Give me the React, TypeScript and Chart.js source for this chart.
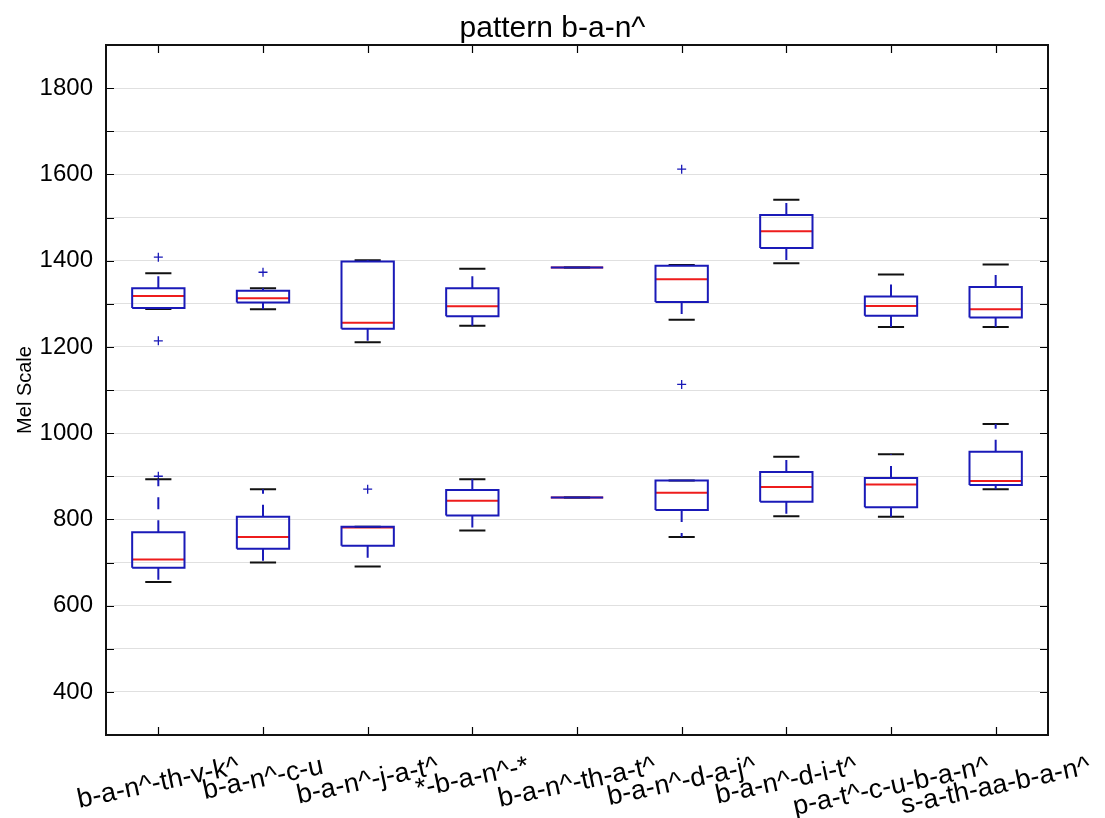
import React, { useEffect, useRef } from "react";
import { Chart, registerables } from "chart.js";

Chart.register(...registerables);

// ---------- data ----------
const categories = [
  "b-a-n^-th-v-k^",
  "b-a-n^-c-u",
  "b-a-n^-j-a-t^",
  "*-b-a-n^-*",
  "b-a-n^-th-a-t^",
  "b-a-n^-d-a-j^",
  "b-a-n^-d-i-t^",
  "p-a-t^-c-u-b-a-n^",
  "s-a-th-aa-b-a-n^",
];

// upper group (higher formant)
const upperLow = [1288, 1287, 1211, 1249, 1384, 1263, 1394, 1246, 1246];
const upperQ1 = [1290, 1303, 1242, 1271, 1384, 1304, 1429, 1272, 1268];
const upperMedian = [1318, 1313, 1256, 1294, 1384, 1357, 1468, 1295, 1287];
const upperQ3 = [1336, 1330, 1398, 1336, 1384, 1388, 1506, 1317, 1339];
const upperHigh = [1371, 1336, 1401, 1381, 1384, 1390, 1541, 1368, 1391];
const upperFliers = [[1408, 1214], [1373], [], [], [], [1612, 1113], [], [], []];

// lower group (lower formant)
const lowerLow = [655, 700, 691, 774, 851, 759, 807, 806, 870];
const lowerQ1 = [688, 732, 739, 809, 851, 822, 841, 828, 880];
const lowerMedian = [707, 759, 781, 843, 851, 862, 875, 881, 889];
const lowerQ3 = [770, 806, 783, 868, 851, 890, 910, 896, 957];
const lowerHigh = [893, 870, 783, 893, 851, 890, 945, 951, 1021];
const lowerFliers = [[900], [], [870], [], [], [], [], [], []];

const yTickLabels = ["400", "600", "800", "1000", "1200", "1400", "1600", "1800"];
const yMin = 300;
const yMax = 1900;
const yStep = 100;

const titleText = "pattern b-a-n^";
const yTitle = "Mel Scale";

// ---------- style ----------
const FONT = '"Liberation Sans", Arial, Helvetica, sans-serif';
const BOX_COLOR = "#1a1ab8";
const MED_COLOR = "#ee1c1c";
const CAP_COLOR = "#111111";
const HALF_BOX = 0.25;
const HALF_CAP = 0.125;
const X_FONT = 27;
const X_ROT = 12;
const TITLE_FONT = 30;

type P = { x: number; y: number | null };

function buildGroup(lo: number[], q1: number[], med: number[], q3: number[], hi: number[], fl: number[][]) {
  const boxes: P[] = [];
  const whiskers: P[] = [];
  const caps: P[] = [];
  const medians: P[] = [];
  const fliers: P[] = [];
  categories.forEach((_, i) => {
    const c = i + 1;
    boxes.push(
      { x: c - HALF_BOX, y: q1[i] },
      { x: c + HALF_BOX, y: q1[i] },
      { x: c + HALF_BOX, y: q3[i] },
      { x: c - HALF_BOX, y: q3[i] },
      { x: c - HALF_BOX, y: q1[i] },
      { x: c, y: null }
    );
    whiskers.push(
      { x: c, y: q3[i] },
      { x: c, y: hi[i] },
      { x: c, y: null },
      { x: c, y: q1[i] },
      { x: c, y: lo[i] },
      { x: c, y: null }
    );
    caps.push(
      { x: c - HALF_CAP, y: hi[i] },
      { x: c + HALF_CAP, y: hi[i] },
      { x: c, y: null },
      { x: c - HALF_CAP, y: lo[i] },
      { x: c + HALF_CAP, y: lo[i] },
      { x: c, y: null }
    );
    medians.push(
      { x: c - HALF_BOX, y: med[i] },
      { x: c + HALF_BOX, y: med[i] },
      { x: c, y: null }
    );
    fl[i].forEach((v) => fliers.push({ x: c, y: v }));
  });
  return { boxes, whiskers, caps, medians, fliers };
}

const framePlugin = {
  id: "mplFrame",
  afterDraw(chart: any) {
    const { ctx, chartArea: a, scales } = chart;
    const xs = scales.x;
    const ys = scales.y;
    ctx.save();
    ctx.strokeStyle = "#000";
    ctx.lineWidth = 1.2;
    ctx.beginPath();
    ys.ticks.forEach((t: any) => {
      const py = Math.round(ys.getPixelForValue(t.value)) + 0.5;
      ctx.moveTo(a.left, py);
      ctx.lineTo(a.left + 8, py);
      ctx.moveTo(a.right, py);
      ctx.lineTo(a.right - 8, py);
    });
    categories.forEach((_, i) => {
      const px = Math.round(xs.getPixelForValue(i + 1)) + 0.5;
      ctx.moveTo(px, a.bottom);
      ctx.lineTo(px, a.bottom - 8);
      ctx.moveTo(px, a.top);
      ctx.lineTo(px, a.top + 8);
    });
    ctx.stroke();
    ctx.lineWidth = 2;
    ctx.strokeStyle = "#111";
    ctx.strokeRect(a.left, a.top, a.right - a.left, a.bottom - a.top);

    // figure title
    ctx.fillStyle = "#000";
    ctx.font = `${TITLE_FONT}px ${FONT}`;
    ctx.textAlign = "center";
    ctx.textBaseline = "alphabetic";
    ctx.fillText(titleText, chart.width / 2, a.top - 8);

    // rotated category labels
    ctx.font = `${X_FONT}px ${FONT}`;
    ctx.textAlign = "center";
    ctx.textBaseline = "middle";
    const th = (X_ROT * Math.PI) / 180;
    categories.forEach((lab, i) => {
      const w = ctx.measureText(lab).width;
      const h = X_FONT * 1.0;
      const H = w * Math.sin(th) + h * Math.cos(th);
      const cx = xs.getPixelForValue(i + 1);
      const cy = a.bottom + 18 + H / 2;
      ctx.save();
      ctx.translate(cx, cy);
      ctx.rotate(-th);
      ctx.fillText(lab, 0, 0);
      ctx.restore();
    });
    ctx.restore();
  },
};

export default function App() {
  const ref = useRef<HTMLCanvasElement>(null);
  useEffect(() => {
    document.body.style.margin = "0";
    const up = buildGroup(upperLow, upperQ1, upperMedian, upperQ3, upperHigh, upperFliers);
    const lw = buildGroup(lowerLow, lowerQ1, lowerMedian, lowerQ3, lowerHigh, lowerFliers);
    const lineDs = (data: P[], color: string, dash: number[] = [], width = 2) => ({
      type: "line" as const,
      data,
      borderColor: color,
      borderWidth: width,
      borderDash: dash,
      pointRadius: 0,
      pointHoverRadius: 0,
      fill: false,
      tension: 0,
      spanGaps: false,
    });
    const flierDs = (data: P[]) => ({
      type: "line" as const,
      data,
      showLine: false,
      pointStyle: "cross" as const,
      pointRadius: 4.5,
      pointBorderColor: BOX_COLOR,
      pointBorderWidth: 1.3,
      borderColor: BOX_COLOR,
    });
    const chart = new Chart(ref.current!, {
      type: "line",
      data: {
        datasets: [
          lineDs(up.boxes, BOX_COLOR),
          lineDs(lw.boxes, BOX_COLOR),
          lineDs(up.whiskers, BOX_COLOR, [12, 11]),
          lineDs(lw.whiskers, BOX_COLOR, [12, 11]),
          lineDs(up.caps, CAP_COLOR),
          lineDs(lw.caps, CAP_COLOR),
          lineDs(up.medians, MED_COLOR),
          lineDs(lw.medians, MED_COLOR),
          flierDs(up.fliers),
          flierDs(lw.fliers),
        ] as any,
      },
      options: {
        animation: false,
        responsive: false,
        maintainAspectRatio: false,
        layout: { padding: { top: 45, right: 57, bottom: 0, left: 0 } },
        plugins: {
          legend: { display: false },
          tooltip: { enabled: false },
          title: { display: false },
        },
        scales: {
          x: {
            type: "linear",
            min: 0.5,
            max: categories.length + 0.5,
            grid: { display: false, drawTicks: false },
            border: { display: false },
            ticks: { display: false },
            afterFit: (s: any) => {
              s.height = 83;
            },
          },
          y: {
            type: "linear",
            min: yMin,
            max: yMax,
            grid: { color: "#e0e0e0", lineWidth: 1, drawTicks: false },
            border: { display: false },
            ticks: {
              stepSize: yStep,
              padding: 13,
              color: "#000",
              font: { family: FONT, size: 24 },
              callback: (v: any) => (yTickLabels.includes(String(v)) ? String(v) : ""),
            },
            title: {
              display: true,
              text: yTitle,
              color: "#000",
              font: { family: FONT, size: 20 },
              padding: { top: 13, bottom: 0 },
            },
            afterFit: (s: any) => {
              s.width = 106;
            },
          },
        },
      },
      plugins: [framePlugin],
    });
    return () => chart.destroy();
  }, []);
  return (
    <div style={{ width: 1105, height: 818, background: "#fff" }}>
      <canvas ref={ref} width={1105} height={818} />
    </div>
  );
}
